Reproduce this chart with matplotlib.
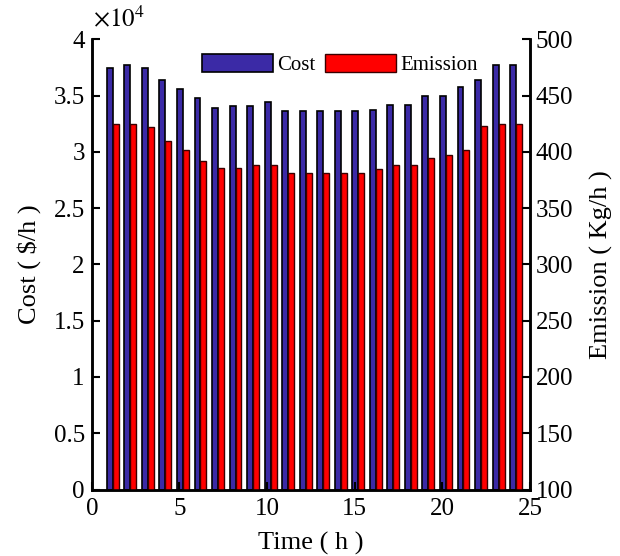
import matplotlib
matplotlib.use("Agg")
import matplotlib.pyplot as plt
import numpy as np

hours = list(range(1, 25))
cost = [3.743, 3.775, 3.749, 3.643, 3.56, 3.478, 3.395, 3.407, 3.41, 3.442, 3.36, 3.36,
        3.36, 3.36, 3.36, 3.374, 3.416, 3.416, 3.50, 3.50, 3.575, 3.64, 3.775, 3.775]
cost = [c * 1e4 for c in cost]
emission = [425, 425, 422, 409.4, 401.4, 391.7, 385.5, 385.5, 388.1, 388.1, 381, 381,
            381, 381.5, 381, 384.6, 388.4, 388.4, 394.9, 397, 401.7, 422.8, 425, 425]
xticks = [0, 5, 10, 15, 20, 25]
left_ticks = [0, 0.5, 1, 1.5, 2, 2.5, 3, 3.5, 4]
right_ticks = [100, 150, 200, 250, 300, 350, 400, 450, 500]

plt.rcParams['font.family'] = ['Liberation Serif', 'DejaVu Serif']
plt.rcParams['mathtext.fontset'] = 'stix'

fig = plt.figure(figsize=(6.2, 5.56), dpi=100)
ax = fig.add_axes([0.148, 0.1196, 0.707, 0.8094])
ax2 = ax.twinx()

x = np.array(hours, dtype=float)
w = 0.34
b1 = ax.bar(x + 0.03, cost, width=w, color='#3B2AA6', edgecolor='black', linewidth=1.2, label='Cost')
b2 = ax2.bar(x + 0.37, emission, width=w, color='#FF0000', edgecolor='#3a0000', linewidth=1.0,
             label='Emission', bottom=0)

ax.set_xlim(0, 25)
ax.set_ylim(0, 4e4)
ax2.set_ylim(100, 500)
ax.set_xticks(xticks)
ax.set_yticks([t * 1e4 for t in left_ticks])
ax.set_yticklabels([('%g' % t) for t in left_ticks])
ax2.set_yticks(right_ticks)

for a in (ax, ax2):
    a.spines['top'].set_visible(False)
    for s in a.spines.values():
        s.set_linewidth(1.8)
    a.tick_params(direction='in', labelsize=18, width=1.5, length=6)
ax.tick_params(axis='x', pad=6)
ax.tick_params(axis='y', right=False, pad=5)
ax2.tick_params(axis='y', left=False, pad=4)

ax.set_xlabel('Time ( h )', fontsize=19, labelpad=9)
ax.set_ylabel('Cost ( $/h )', fontsize=19, labelpad=9)
ax2.set_ylabel('Emission ( Kg/h )', fontsize=19, labelpad=12)

fig.text(0.150, 0.943, r'$\times 10^{4}$', fontsize=18, ha='left', va='bottom')

fig.legend([b1, b2], ['Cost', 'Emission'], ncol=2, frameon=False, fontsize=15,
           loc='center', bbox_to_anchor=(0.548, 0.884), handlelength=3.4, handleheight=0.95,
           columnspacing=0.5, handletextpad=0.2, borderpad=0)

fig.savefig('out.png', dpi=100)
